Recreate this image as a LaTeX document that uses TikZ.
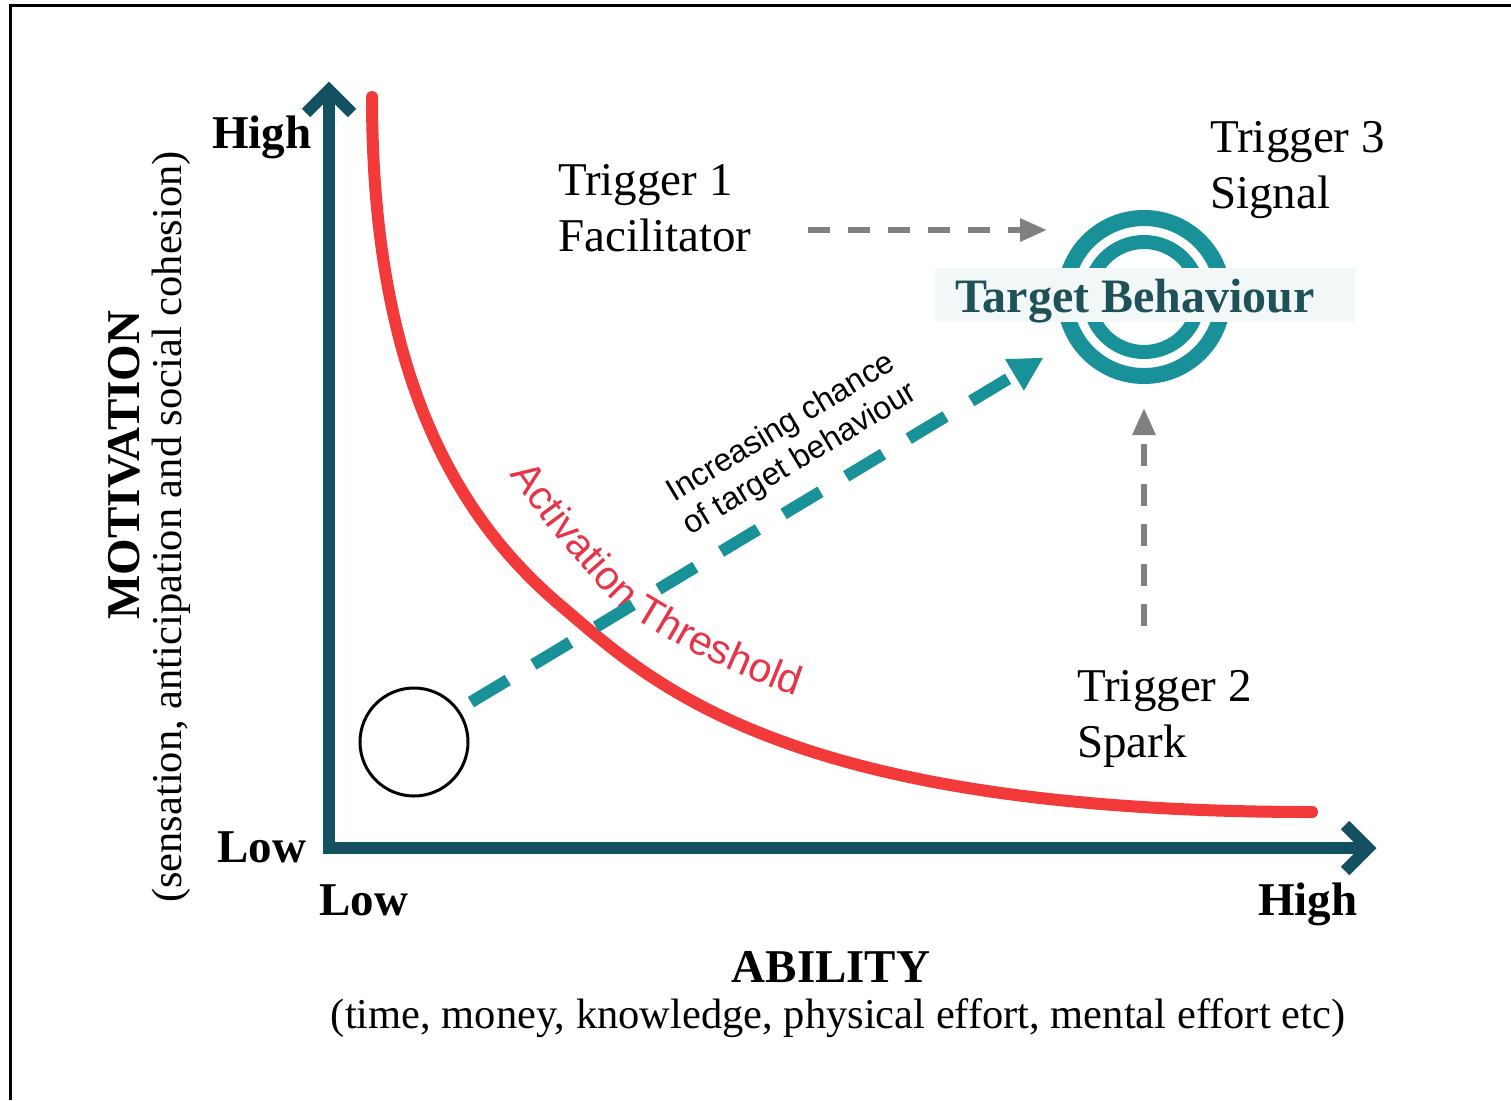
\documentclass[tikz,border=0pt]{standalone}
\usepackage{fontspec}
\setmainfont{Liberation Serif}
\newfontfamily\arialfont{Liberation Sans}
\usetikzlibrary{arrows.meta,decorations.text}
\definecolor{axisteal}{RGB}{19,80,96}
\definecolor{curvered}{RGB}{243,58,58}
\definecolor{labelred}{RGB}{232,52,72}
\definecolor{ringteal}{RGB}{24,145,152}
\definecolor{targettext}{RGB}{30,82,88}
\definecolor{arrowgrey}{RGB}{128,128,128}
\definecolor{bandfill}{RGB}{242,247,247}
\newcommand{\setfs}[1]{\fontsize{#1}{#1}\selectfont}
\begin{document}
\begin{tikzpicture}[x=1pt,y=-1pt,
  axisline/.style={draw=axisteal, line width=12pt, line join=miter},
  boldlbl/.style={font=\bfseries\setfs{47}, inner sep=0pt},
  trig/.style={font=\setfs{47}, inner sep=0pt, anchor=base west},
  greyarrow/.style={draw=arrowgrey, line width=6pt, dash pattern=on 22pt off 18pt, -{Triangle[length=27pt,width=22pt]}},
  tealarrow/.style={draw=ringteal, line width=12pt, dash pattern=on 43pt off 30pt, -{Triangle[length=34pt,width=34pt]}},
  ring/.style={draw=ringteal}
]
\useasboundingbox (0,0) rectangle (1511,1100);
\fill[white] (0,0) rectangle (1511,1100);
% frame
\draw[line width=3pt] (1511,5) -- (10,5) -- (10,1100);

% axes
\coordinate (ytop) at (329,90);
\coordinate (origin) at (329,848);
\coordinate (xend) at (1368,848);
\draw[axisline] (ytop) -- (origin) -- (xend);
\draw[axisline] (306,113) -- (ytop) -- (352,113);
\draw[axisline] (1345,825) -- (xend) -- (1345,871);

% activation curve
\draw[curvered, line width=12pt, line cap=round]
  (372,97) .. controls (372,380) and (460,520) .. (560,605)
           .. controls (650,681) and (780,812) .. (1312,812);

\path[decorate, decoration={text along path, text color=labelred,
  text={|\arialfont\setfs{41}|Activation Threshold}}]
  plot[smooth, tension=0.5] coordinates {(510,474) (533,506) (557,538) (588,573) (620,608) (659,633) (698,655) (738,673) (778,690) (820,704) (860,716)};

% start circle
\node[circle, draw, line width=3pt, minimum size=108pt, inner sep=0pt] (c0) at (414,742) {};

% target rings
\node[circle, minimum size=174pt, inner sep=0pt] (tgt) at (1144,297) {};
\draw[ring, line width=16pt] (tgt.center) circle[radius=79pt];
\draw[ring, line width=14pt] (tgt.center) circle[radius=55pt];
\fill[bandfill] (935,268) rectangle (1355,322);
\node[font=\bfseries\setfs{48}, text=targettext, inner sep=0pt, anchor=base] (tb) at (1135,312) {Target Behaviour};

% teal dashed arrow
\draw[tealarrow, shorten <=14pt, shorten >=30pt] (c0.36) -- (tgt);
\node[font=\arialfont\setfs{32}, align=center, rotate=31, inner sep=0pt] (inc) at (791,444)
  {Increasing chance\\[5pt]of target behaviour};

% triggers
\node[trig] (t1a) at (558,195) {Trigger 1};
\node[trig] (t1b) at (558,251) {Facilitator};
\node[trig] (t3a) at (1210,152) {Trigger 3};
\node[trig] (t3b) at (1210,208) {Signal};
\node[trig] (t2a) at (1077,701) {Trigger 2};
\node[trig] (t2b) at (1077,757) {Spark};

\coordinate (g1s) at (808,230);
\coordinate (g1e) at (1047,230);
\draw[greyarrow] (g1s) -- (g1e);
\coordinate (g2s) at (1144,626);
\coordinate (g2e) at (1144,408);
\draw[greyarrow] (g2s) -- (g2e);

% axis labels
\node[boldlbl, anchor=base west] (yhigh) at (212,148) {High};
\node[boldlbl, anchor=base west] (ylow) at (217,862) {Low};
\node[boldlbl, anchor=base west] (xlow) at (319,915) {Low};
\node[boldlbl, anchor=base west] (xhigh) at (1258,915) {High};
\node[boldlbl, anchor=base] (abil) at (831,982) {ABILITY};
\node[font=\setfs{42.5}, inner sep=0pt, anchor=base] (abilsub) at (838,1028)
  {(time, money, knowledge, physical effort, mental effort etc)};
\node[boldlbl, anchor=base, rotate=90] (motiv) at (139,465) {MOTIVATION};
\node[font=\setfs{42.5}, inner sep=0pt, anchor=base, rotate=90] (motivsub) at (181,527)
  {(sensation, anticipation and social cohesion)};
\end{tikzpicture}
\end{document}
